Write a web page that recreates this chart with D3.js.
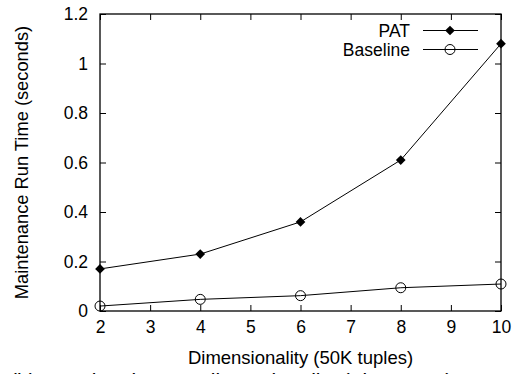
<!DOCTYPE html>
<html>
<head>
<meta charset="utf-8">
<script src="https://cdn.jsdelivr.net/npm/d3@7.9.0/dist/d3.min.js"></script>
<style>
  html, body { margin: 0; padding: 0; background: #fff; overflow: hidden; }
  text { font-family: "Liberation Sans", Arial, sans-serif; fill: #000; }
</style>
</head>
<body>
<svg id="chart" width="516" height="374"></svg>
<script>
const dims = [2, 4, 6, 8, 10];
const patTimes = [0.17, 0.23, 0.36, 0.61, 1.08];
const baselineTimes = [0.02, 0.047, 0.062, 0.094, 0.109];
const xTicks = [2, 3, 4, 5, 6, 7, 8, 9, 10];
const yTicks = [0, 0.2, 0.4, 0.6, 0.8, 1, 1.2];
const seriesNames = ['PAT', 'Baseline'];

const margin = { left: 100, top: 14, right: 15, bottom: 63 };
const width = 516, height = 374;
const svg = d3.select('#chart');

const xScale = d3.scaleLinear().domain([2, 10]).range([margin.left, width - margin.right]);
const yScale = d3.scaleLinear().domain([0, 1.2]).range([height - margin.bottom, margin.top]);

const tickLen = 6;
const fmt = d => String(d);

// axes (ticks point inward, mirrored on opposite sides)
const xBottom = svg.append('g').attr('transform', `translate(0,${yScale(0)})`)
  .call(d3.axisBottom(xScale).tickValues(xTicks).tickFormat(fmt).tickSizeInner(-tickLen).tickSizeOuter(0).tickPadding(10));
const xTop = svg.append('g').attr('transform', `translate(0,${yScale(1.2)})`)
  .call(d3.axisTop(xScale).tickValues(xTicks).tickFormat('').tickSizeInner(-tickLen).tickSizeOuter(0));
const yLeft = svg.append('g').attr('transform', `translate(${xScale(2)},0)`)
  .call(d3.axisLeft(yScale).tickValues(yTicks).tickFormat(fmt).tickSizeInner(-tickLen).tickSizeOuter(0).tickPadding(12));
const yRight = svg.append('g').attr('transform', `translate(${xScale(10)},0)`)
  .call(d3.axisRight(yScale).tickValues(yTicks).tickFormat('').tickSizeInner(-tickLen).tickSizeOuter(0));

[xBottom, xTop, yLeft, yRight].forEach(g => {
  g.select('.domain').remove();
  g.selectAll('line').attr('stroke', '#000').attr('stroke-width', 1);
  g.selectAll('text').style('font-size', '17.5px').attr('fill', '#000');
});

svg.append('rect')
  .attr('x', xScale(2)).attr('y', yScale(1.2))
  .attr('width', xScale(10) - xScale(2)).attr('height', yScale(0) - yScale(1.2))
  .attr('fill', 'none').attr('stroke', '#000').attr('stroke-width', 1.3);

// axis titles
svg.append('text')
  .attr('x', (xScale(2) + xScale(10)) / 2).attr('y', 364)
  .attr('text-anchor', 'middle').style('font-size', '18.5px')
  .text('Dimensionality (50K tuples)');
svg.append('text')
  .attr('transform', `translate(28,${(yScale(0) + yScale(1.2)) / 2}) rotate(-90)`)
  .attr('text-anchor', 'middle').style('font-size', '18.3px')
  .text('Maintenance Run Time (seconds)');

// caption (cut off by the frame edge, as in the source)
svg.append('text')
  .attr('x', 10).attr('y', 388)
  .attr('text-anchor', 'start').style('font-size', '21px')
  .text('(b) Running time vs. dimensionality (Fig 9 & 10)');

const line = d3.line().x(d => xScale(d[0])).y(d => yScale(d[1]));
const diamond = d3.symbol().type(d3.symbolDiamond2).size(60);

const patData = dims.map((d, i) => [d, patTimes[i]]);
const baseData = dims.map((d, i) => [d, baselineTimes[i]]);

svg.append('path').datum(patData).attr('d', line)
  .attr('fill', 'none').attr('stroke', '#000').attr('stroke-width', 1);
svg.append('path').datum(baseData).attr('d', line)
  .attr('fill', 'none').attr('stroke', '#000').attr('stroke-width', 1);

svg.append('g').selectAll('path').data(patData).join('path')
  .attr('transform', d => `translate(${xScale(d[0])},${yScale(d[1])})`)
  .attr('d', diamond).attr('fill', '#000');
svg.append('g').selectAll('circle').data(baseData).join('circle')
  .attr('cx', d => xScale(d[0])).attr('cy', d => yScale(d[1]))
  .attr('r', 5).attr('fill', 'none').attr('stroke', '#000').attr('stroke-width', 1);

// legend
const legend = svg.append('g');
seriesNames.forEach((name, i) => {
  const y = 30.5 + i * 19;
  legend.append('text').attr('x', 410).attr('y', y + 6)
    .attr('text-anchor', 'end').style('font-size', '17.5px').text(name);
  legend.append('line').attr('x1', 423).attr('x2', 478).attr('y1', y).attr('y2', y)
    .attr('stroke', '#000').attr('stroke-width', 1);
  if (i === 0) {
    legend.append('path').attr('transform', `translate(450,${y})`).attr('d', diamond).attr('fill', '#000');
  } else {
    legend.append('circle').attr('cx', 450).attr('cy', y).attr('r', 5)
      .attr('fill', 'none').attr('stroke', '#000').attr('stroke-width', 1);
  }
});
</script>
</body>
</html>
